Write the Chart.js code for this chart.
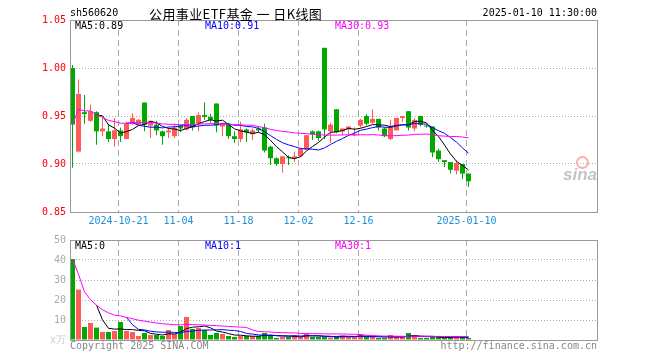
<!DOCTYPE html>
<html>
<head>
<meta charset="utf-8">
<script src="https://cdn.jsdelivr.net/npm/chart.js@4.4.1/dist/chart.umd.min.js"></script>
<style>
  body { margin: 0; background: #fff; width: 660px; height: 360px; position: relative; overflow: hidden;
         font-family: 'DejaVu Sans Mono', monospace; font-size: 10px; }
  canvas { position: absolute; left: 0; }
  .t { position: absolute; white-space: nowrap; line-height: 12px; }
</style>
</head>
<body>
<canvas id="kline" width="660" height="232" style="top:0"></canvas>
<canvas id="vol" width="660" height="130" style="top:230px"></canvas>

<div class="t" style="left:70px;top:7px">sh560620</div>
<div class="t" style="left:149px;top:6px;font-family:'Noto Sans CJK SC';font-size:13px;line-height:15px;letter-spacing:0.4px">公用事业ETF基金 一 日K线图</div>
<div class="t" style="right:63px;top:7px">2025-01-10 11:30:00</div>

<div class="t" style="left:75px;top:20px;color:#000">MA5:0.89</div>
<div class="t" style="left:205px;top:20px;color:#0000ff">MA10:0.91</div>
<div class="t" style="left:335px;top:20px;color:#ff00ff">MA30:0.93</div>

<div class="t" style="left:75px;top:240px;color:#000">MA5:0</div>
<div class="t" style="left:205px;top:240px;color:#0000ff">MA10:1</div>
<div class="t" style="left:335px;top:240px;color:#ff00ff">MA30:1</div>

<div class="t" style="left:70px;top:340px;color:#888">Copyright 2025 SINA.COM</div>
<div class="t" style="right:63px;top:340px;color:#888">http://finance.sina.com.cn</div>

<div style="position:absolute;left:576px;top:156px;width:9px;height:9px;border-radius:50%;border:2px solid #f4b0b0"></div>
<div class="t" style="left:563px;top:166px;font-family:'Liberation Sans';font-style:italic;font-weight:bold;font-size:17px;line-height:18px;color:#c4c4c4">sina</div>

<script>
// 日K数据 (2024-10-09 ~ 2025-01-10)
const opens = [1.000, 0.913, 0.954, 0.945, 0.954, 0.934, 0.934, 0.926, 0.935, 0.926,
               0.942, 0.941, 0.964, 0.940, 0.941, 0.934, 0.933, 0.929, 0.940, 0.936,
               0.950, 0.942, 0.951, 0.949, 0.963, 0.939, 0.942, 0.929, 0.926, 0.936,
               0.931, 0.937, 0.938, 0.918, 0.906, 0.900, 0.907, 0.906, 0.908, 0.915,
               0.934, 0.934, 1.021, 0.934, 0.957, 0.934, 0.936, 0.930, 0.940, 0.950,
               0.943, 0.947, 0.937, 0.926, 0.935, 0.948, 0.955, 0.937, 0.950, 0.940,
               0.939, 0.914, 0.904, 0.902, 0.893, 0.900, 0.890];
const highs = [1.003, 0.988, 0.972, 0.962, 0.955, 0.948, 0.942, 0.948, 0.938, 0.944,
               0.953, 0.947, 0.964, 0.945, 0.945, 0.935, 0.938, 0.942, 0.941, 0.948,
               0.950, 0.954, 0.964, 0.952, 0.963, 0.943, 0.943, 0.934, 0.944, 0.937,
               0.937, 0.939, 0.942, 0.919, 0.907, 0.908, 0.909, 0.913, 0.917, 0.930,
               0.935, 0.935, 1.021, 0.943, 0.957, 0.937, 0.939, 0.938, 0.947, 0.952,
               0.957, 0.947, 0.938, 0.946, 0.948, 0.950, 0.955, 0.948, 0.950, 0.941,
               0.939, 0.916, 0.904, 0.902, 0.904, 0.900, 0.890];
const lows   = [0.896, 0.912, 0.942, 0.944, 0.920, 0.929, 0.923, 0.918, 0.923, 0.926,
               0.941, 0.940, 0.934, 0.927, 0.930, 0.920, 0.927, 0.927, 0.933, 0.935,
               0.935, 0.934, 0.946, 0.943, 0.933, 0.929, 0.926, 0.922, 0.923, 0.923,
               0.925, 0.933, 0.912, 0.899, 0.898, 0.891, 0.899, 0.902, 0.907, 0.915,
               0.925, 0.924, 0.926, 0.922, 0.932, 0.930, 0.930, 0.929, 0.938, 0.940,
               0.942, 0.935, 0.928, 0.925, 0.935, 0.944, 0.935, 0.934, 0.939, 0.938,
               0.907, 0.902, 0.897, 0.890, 0.889, 0.884, 0.876];
const closes = [0.941, 0.973, 0.952, 0.955, 0.934, 0.937, 0.926, 0.935, 0.929, 0.942,
               0.948, 0.946, 0.941, 0.945, 0.935, 0.929, 0.935, 0.938, 0.937, 0.946,
               0.938, 0.951, 0.949, 0.946, 0.940, 0.942, 0.929, 0.926, 0.936, 0.933,
               0.935, 0.935, 0.914, 0.906, 0.900, 0.908, 0.906, 0.908, 0.916, 0.930,
               0.931, 0.927, 0.936, 0.941, 0.933, 0.937, 0.939, 0.931, 0.946, 0.942,
               0.947, 0.938, 0.929, 0.939, 0.948, 0.950, 0.938, 0.946, 0.941, 0.939,
               0.912, 0.905, 0.902, 0.894, 0.901, 0.890, 0.882];
// 成交量 (万)
const volumes = [40.5, 25.2, 6.5, 8.5, 6.2, 4.0, 4.0, 4.5, 9.0, 4.5,
                 4.0, 2.0, 3.5, 2.5, 2.5, 2.0, 5.0, 3.0, 7.0, 11.5,
                 5.5, 6.0, 5.0, 2.5, 3.5, 3.0, 2.0, 1.5, 2.0, 2.0,
                 2.0, 2.0, 3.5, 2.5, 1.0, 1.5, 1.5, 2.5, 1.5, 3.5,
                 1.5, 1.5, 1.5, 1.3, 1.7, 2.3, 1.5, 1.5, 2.8, 1.5,
                 1.5, 1.0, 1.0, 2.5, 1.5, 1.5, 3.5, 2.2, 1.0, 1.0,
                 1.5, 1.5, 1.0, 1.5, 1.5, 1.5, 1.0];

const dateIndex = [8, 18, 28, 38, 48, 66];
const dateLabels = ['2024-10-21', '11-04', '11-18', '12-02', '12-16', '2025-01-10'];
const priceTicks = [0.85, 0.90, 0.95, 1.00, 1.05];
const volTicks = [0, 10, 20, 30, 40, 50];

const UP = '#ff5a5a';
const DOWN = '#00a800';
const GRID = '#aaaaaa';
const X_MIN = -0.4167, X_MAX = 87.4167;

const colors = closes.map((c, i) => c >= opens[i] ? UP : DOWN);

// 均线: partial=true 时前面不足 n 天用已有数据平均
function ma(arr, n, partial) {
  return arr.map((v, i) => {
    if (i < n - 1 && !partial) return { x: i, y: null };
    const s = arr.slice(Math.max(0, i - n + 1), i + 1);
    return { x: i, y: s.reduce((a, b) => a + b, 0) / s.length };
  });
}

function maLine(data, color) {
  return { type: 'line', data: data, borderColor: color, borderWidth: 1,
           pointRadius: 0, tension: 0, fill: false };
}

// 画外框
const framePlugin = {
  id: 'frame',
  afterDraw(chart) {
    const { ctx, chartArea: a } = chart;
    ctx.save();
    ctx.strokeStyle = '#999999';
    ctx.lineWidth = 1;
    ctx.strokeRect(a.left + 0.5, a.top + 0.5, a.right - a.left, a.bottom - a.top);
    ctx.restore();
  }
};

function xScale(showLabels) {
  return {
    type: 'linear', min: X_MIN, max: X_MAX, offset: false,
    afterBuildTicks: s => { s.ticks = dateIndex.map(i => ({ value: i - 1 / 3 })); },
    afterFit: s => { s.height = showLabels ? 20 : 0; },
    grid: { color: GRID, drawTicks: false, offset: false },
    border: { display: false, dash: [6, 4] },
    ticks: {
      display: showLabels, autoSkip: false, maxRotation: 0, padding: 3,
      color: '#1b8fd8', font: { family: 'DejaVu Sans Mono', size: 10 },
      callback: (v, idx) => dateLabels[idx]
    }
  };
}

const baseOptions = {
  responsive: false, animation: false, events: [],
  plugins: { legend: { display: false }, tooltip: { enabled: false } }
};

// K线图
const bodies = opens.map((o, i) => {
  let lo = Math.min(o, closes[i]), hi = Math.max(o, closes[i]);
  if (hi - lo < 0.001) hi = lo + 0.001;
  return { x: i, y: [lo, hi] };
});
const wicks = highs.map((h, i) => ({ x: i, y: [lows[i], h] }));

new Chart(document.getElementById('kline'), {
  type: 'bar',
  data: {
    datasets: [
      maLine(ma(closes, 30, true), '#ff00ff'),
      maLine(ma(closes, 10, false), '#0000ff'),
      maLine(ma(closes, 5, false), '#000000'),
      { data: bodies, backgroundColor: colors, barThickness: 5, grouped: false, inflateAmount: 0, order: 1 },
      { data: wicks, backgroundColor: colors, barThickness: 1, grouped: false, inflateAmount: 0, order: 2 }
    ]
  },
  options: Object.assign({}, baseOptions, {
    layout: { padding: { top: 20, right: 63, left: 0, bottom: 0 } },
    scales: {
      x: xScale(true),
      y: {
        min: 0.85, max: 1.05,
        afterBuildTicks: s => { s.ticks = priceTicks.map(v => ({ value: v })); },
        afterFit: s => { s.width = 70; },
        grid: { color: GRID, drawTicks: false },
        border: { display: false, dash: [1, 2] },
        ticks: { color: '#ff0000', padding: 4, font: { family: 'DejaVu Sans Mono', size: 10 },
                 callback: v => v.toFixed(2) }
      }
    }
  }),
  plugins: [framePlugin]
});

// 成交量图
const volBars = volumes.map((v, i) => ({ x: i, y: v }));

new Chart(document.getElementById('vol'), {
  type: 'bar',
  data: {
    datasets: [
      maLine(ma(volumes, 30, true), '#ff00ff'),
      maLine(ma(volumes, 10, false), '#0000ff'),
      maLine(ma(volumes, 5, false), '#000000'),
      { data: volBars, backgroundColor: colors, barThickness: 5, grouped: false, inflateAmount: 0, order: 1 }
    ]
  },
  options: Object.assign({}, baseOptions, {
    layout: { padding: { top: 10, right: 63, left: 0, bottom: 20 } },
    scales: {
      x: xScale(false),
      y: {
        min: 0, max: 50,
        afterBuildTicks: s => { s.ticks = volTicks.map(v => ({ value: v })); },
        afterFit: s => { s.width = 70; },
        grid: { color: GRID, drawTicks: false },
        border: { display: false, dash: [1, 2] },
        ticks: { padding: 4, font: { family: 'DejaVu Sans Mono', size: 10 },
                 color: c => c.tick && c.tick.value === 0 ? '#cccccc' : '#aaaaaa',
                 callback: v => v === 0 ? 'x万' : String(v) }
      }
    }
  }),
  plugins: [framePlugin]
});
</script>
</body>
</html>
